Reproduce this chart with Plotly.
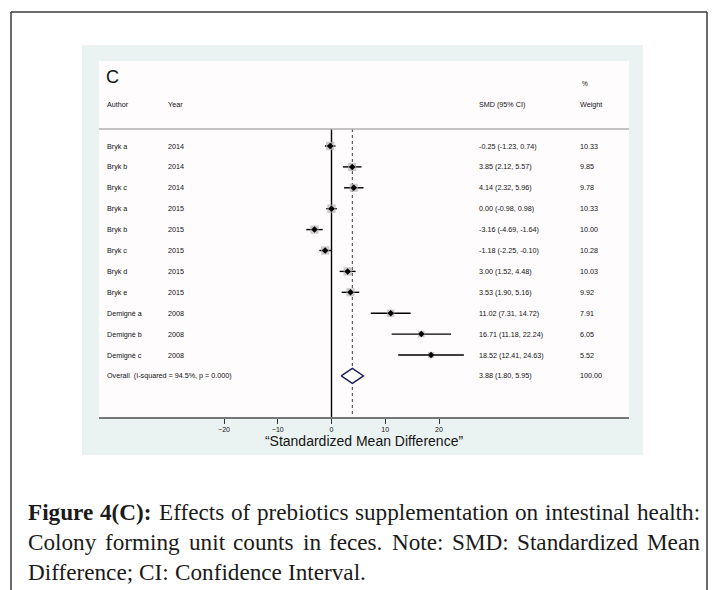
import plotly.graph_objects as go

# ---- study data -------------------------------------------------------------
authors = ["Bryk a", "Bryk b", "Bryk c", "Bryk a", "Bryk b", "Bryk c",
           "Bryk d", "Bryk e", "Demignè a", "Demignè b", "Demignè c"]
years = [2014, 2014, 2014, 2015, 2015, 2015, 2015, 2015, 2008, 2008, 2008]
smd = [-0.25, 3.85, 4.14, 0.00, -3.16, -1.18, 3.00, 3.53, 11.02, 16.71, 18.52]
ci_low = [-1.23, 2.12, 2.32, -0.98, -4.69, -2.25, 1.52, 1.90, 7.31, 11.18, 12.41]
ci_high = [0.74, 5.57, 5.96, 0.98, -1.64, -0.10, 4.48, 5.16, 14.72, 22.24, 24.63]
weights = [10.33, 9.85, 9.78, 10.33, 10.00, 10.28, 10.03, 9.92, 7.91, 6.05, 5.52]

overall_smd = 3.88
overall_low = 1.80
overall_high = 5.95
overall_weight = 100.00
i_squared = 94.5
p_value = 0.000

tick_vals = [-20, -10, 0, 10, 20]

W, H = 715, 590
FONT = "Liberation Sans, Arial, sans-serif"
TXT = "#111111"


def px_x(px):
    return px / W


def px_y(py):
    return 1 - py / H


# row coordinate system: row 0 sits at pixel 146, rows are 20.9 px apart
ROW0, ROWH = 146.0, 20.9


def row_of(py):
    return (py - ROW0) / ROWH


PLOT_L, PLOT_R, PLOT_T, PLOT_B = 99, 629, 61, 417
ZERO_PX, PX_PER_UNIT = 331.5, 5.375
x_range = [(PLOT_L - ZERO_PX) / PX_PER_UNIT, (PLOT_R - ZERO_PX) / PX_PER_UNIT]
y_range = [row_of(PLOT_B), row_of(PLOT_T)]

n = len(smd)
rows = list(range(n))
overall_row = n
header_row = row_of(129)

fig = go.Figure()

# confidence intervals
ci_x, ci_y = [], []
for r, lo, hi in zip(rows, ci_low, ci_high):
    ci_x += [lo, hi, None]
    ci_y += [r, r, None]
fig.add_trace(go.Scatter(x=ci_x, y=ci_y, mode="lines",
                         line=dict(color="black", width=1.4),
                         hoverinfo="skip", showlegend=False))

# weight boxes
fig.add_trace(go.Scatter(x=smd, y=rows, mode="markers",
                         marker=dict(symbol="square", color="#b5b5b5",
                                     size=[2.6 * w ** 0.5 for w in weights],
                                     line=dict(width=0)),
                         hoverinfo="skip", showlegend=False))

# point estimates
fig.add_trace(go.Scatter(x=smd, y=rows, mode="markers",
                         marker=dict(symbol="diamond", color="black", size=5,
                                     line=dict(width=0)),
                         showlegend=False))

# pooled-estimate diamond
dh = 0.36
fig.add_trace(go.Scatter(
    x=[overall_low, overall_smd, overall_high, overall_smd, overall_low],
    y=[overall_row, overall_row - dh, overall_row, overall_row + dh, overall_row],
    mode="lines", fill="toself", fillcolor="white",
    line=dict(color="#1c1c4e", width=1.4),
    hoverinfo="skip", showlegend=False))

shapes = [
    # outer frame
    dict(type="line", xref="paper", yref="paper", x0=px_x(11), x1=px_x(11),
         y0=px_y(12), y1=px_y(H + 5), line=dict(color="#3a3a3a", width=1.5), layer="below"),
    dict(type="line", xref="paper", yref="paper", x0=px_x(707), x1=px_x(707),
         y0=px_y(12), y1=px_y(H + 5), line=dict(color="#3a3a3a", width=1.5), layer="below"),
    dict(type="line", xref="paper", yref="paper", x0=px_x(11), x1=px_x(707),
         y0=px_y(12), y1=px_y(12), line=dict(color="#3a3a3a", width=1.5), layer="below"),
    # tinted panel behind the forest plot
    dict(type="rect", xref="paper", yref="paper", x0=px_x(82), x1=px_x(643),
         y0=px_y(455), y1=px_y(45), fillcolor="#ebf3f2", line=dict(width=0),
         layer="below"),
    # plotting region
    dict(type="rect", xref="paper", yref="paper", x0=px_x(PLOT_L), x1=px_x(PLOT_R),
         y0=px_y(PLOT_B), y1=px_y(PLOT_T), fillcolor="#fefcfd", line=dict(width=0),
         layer="below"),
    # header rule
    dict(type="line", xref="paper", yref="y", x0=px_x(PLOT_L), x1=px_x(PLOT_R),
         y0=header_row, y1=header_row, line=dict(color="#b0b0b0", width=1.5)),
    # line of no effect
    dict(type="line", xref="x", yref="y", x0=0, x1=0, y0=header_row, y1=y_range[0],
         line=dict(color="black", width=1.4), layer="below"),
    # pooled estimate reference
    dict(type="line", xref="x", yref="y", x0=overall_smd, x1=overall_smd,
         y0=header_row, y1=y_range[0],
         line=dict(color="#5a4a4a", width=1.1, dash="3px,3px"), layer="below"),
]

annotations = []


def add_text(text, px, row, size=7.2, anchor="left", **kw):
    annotations.append(dict(text=text, xref="paper", yref="y", x=px_x(px), y=row,
                            xanchor=anchor, yanchor="middle", showarrow=False,
                            font=dict(family=FONT, size=size, color=TXT), **kw))


COL_AUTHOR, COL_YEAR, COL_SMD, COL_WEIGHT = 105, 166, 477, 578

add_text("C", 104, row_of(77), size=18)
add_text("%", 580, row_of(83), size=6.5)
add_text("Author", COL_AUTHOR, row_of(104))
add_text("Year", COL_YEAR, row_of(104))
add_text("SMD (95% CI)", COL_SMD, row_of(104))
add_text("Weight", COL_WEIGHT, row_of(104))

for r, a, yr, m, lo, hi, w in zip(rows, authors, years, smd, ci_low, ci_high, weights):
    add_text(a, COL_AUTHOR, r)
    add_text(str(yr), COL_YEAR, r)
    add_text(f"{m:.2f} ({lo:.2f}, {hi:.2f})", COL_SMD, r)
    add_text(f"{w:.2f}", COL_WEIGHT, r)

add_text(f"Overall\u00a0 (I-squared = {i_squared:.1f}%, p = {p_value:.3f})", COL_AUTHOR, overall_row)
add_text(f"{overall_smd:.2f} ({overall_low:.2f}, {overall_high:.2f})", COL_SMD, overall_row)
add_text(f"{overall_weight:.2f}", COL_WEIGHT, overall_row)

# ---- justified caption -------------------------------------------------------
# Times-compatible advance widths (1/1000 em) used to spread words across a line
REG = dict(zip("ABCDEFGHIJKLMNOPQRSTUVWXYZ",
               [722, 667, 667, 722, 611, 556, 722, 722, 333, 389, 722, 611, 889,
                722, 722, 556, 722, 667, 556, 611, 722, 722, 944, 722, 722, 611]))
REG.update(zip("abcdefghijklmnopqrstuvwxyz",
               [444, 500, 444, 500, 444, 333, 500, 500, 278, 278, 500, 278, 778,
                500, 500, 500, 500, 333, 389, 278, 500, 500, 722, 500, 500, 444]))
REG.update({c: 500 for c in "0123456789"})
REG.update({" ": 250, ".": 250, ",": 250, ":": 278, ";": 278, "(": 333, ")": 333, "-": 333})
BOLD = dict(REG)
BOLD.update({"F": 611, "i": 278, "g": 500, "u": 556, "r": 444, "e": 444,
             "4": 500, "(": 333, "C": 722, ")": 333, ":": 333})

CAP_FONT = "Liberation Serif, Times New Roman, serif"
CAP_SIZE = 23.2
CAP_COLOR = "#1a1a1a"
CAP_L, CAP_R = 28, 700


def word_width(word, bold):
    table = BOLD if bold else REG
    return sum(table.get(ch, 500) for ch in word) * CAP_SIZE / 1000


def caption_line(words, py, justify):
    widths = [word_width(w, b) for w, b in words]
    space = REG[" "] * CAP_SIZE / 1000
    if justify and len(words) > 1:
        space = (CAP_R - CAP_L - sum(widths)) / (len(words) - 1)
    x = CAP_L
    for (w, b), wd in zip(words, widths):
        annotations.append(dict(text=f"<b>{w}</b>" if b else w, xref="paper",
                                yref="paper", x=px_x(x - 2), y=px_y(py),
                                xanchor="left", yanchor="middle", showarrow=False,
                                font=dict(family=CAP_FONT, size=CAP_SIZE, color=CAP_COLOR)))
        x += wd + space


cap1 = [("Figure", True), ("4(C):", True)] + [
    (w, False) for w in "Effects of prebiotics supplementation on intestinal health:".split()]
cap2 = [(w, False) for w in
        "Colony forming unit counts in feces. Note: SMD: Standardized Mean".split()]
cap3 = [(w, False) for w in "Difference; CI: Confidence Interval.".split()]

caption_line(cap1, 512, True)
caption_line(cap2, 542, True)
caption_line(cap3, 572, False)

fig.update_layout(
    width=W, height=H,
    margin=dict(l=0, r=0, t=0, b=0),
    paper_bgcolor="white",
    plot_bgcolor="rgba(0,0,0,0)",
    shapes=shapes,
    annotations=annotations,
    xaxis=dict(domain=[px_x(PLOT_L), px_x(PLOT_R)], range=x_range,
               tickvals=tick_vals, ticks="outside", ticklen=5, tickwidth=1,
               tickcolor="#333", showgrid=False, zeroline=False,
               showline=True, linecolor="#777", linewidth=2,
               tickfont=dict(family=FONT, size=7, color=TXT),
               title=dict(text="\u201cStandardized Mean Difference\u201d",
                          font=dict(family=FONT, size=14, color="#151515"),
                          standoff=2)),
    yaxis=dict(domain=[px_y(PLOT_B), px_y(PLOT_T)], range=y_range,
               showgrid=False, zeroline=False, showticklabels=False,
               showline=False, ticks=""),
)

fig.write_html("out.html")
